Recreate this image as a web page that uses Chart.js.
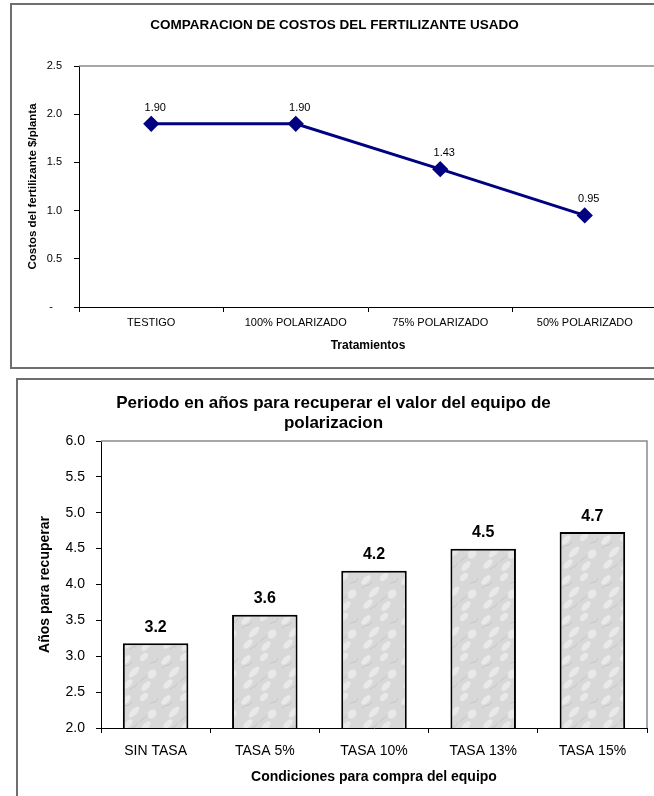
<!DOCTYPE html>
<html>
<head>
<meta charset="utf-8">
<script src="https://cdn.jsdelivr.net/npm/chart.js@4"></script>
<style>
  html, body { margin: 0; padding: 0; width: 654px; height: 796px; overflow: hidden; background: #fff; }
  body { position: relative; }
  .frame { position: absolute; border: 2px solid #6e6e6e; box-sizing: border-box; }
  .wrap { position: absolute; }
</style>
</head>
<body>
<div class="frame" style="left:10px;top:3px;width:680px;height:366px"></div>
<div class="frame" style="left:16px;top:378px;width:680px;height:440px"></div>
<div class="wrap" style="left:0;top:0;width:670px;height:370px"><canvas id="chCosto"></canvas></div>
<div class="wrap" style="left:0;top:372px;width:670px;height:424px"><canvas id="chPeriodo"></canvas></div>

<script>
/* datos grafico 1: costo del fertilizante */
const tratamientos = ['TESTIGO', '100% POLARIZADO', '75% POLARIZADO', '50% POLARIZADO'];
const costoPlanta  = [1.90, 1.90, 1.43, 0.95];
const costoTicks   = [0, 0.5, 1.0, 1.5, 2.0, 2.5];

/* datos grafico 2: periodo de recuperacion */
const condiciones  = ['SIN TASA', 'TASA 5%', 'TASA 10%', 'TASA 13%', 'TASA 15%'];
const aniosRecup   = [3.18, 3.58, 4.19, 4.50, 4.73];
const aniosTicks   = [2.0, 2.5, 3.0, 3.5, 4.0, 4.5, 5.0, 5.5, 6.0];

const FONT = "'Liberation Sans', Arial, sans-serif";
Chart.defaults.font.family = FONT;
Chart.defaults.color = '#000';

// borde gris arriba y a la derecha del area de trazado
const plotFrame = {
  id: 'plotFrame',
  beforeDatasetsDraw(chart) {
    const { ctx, chartArea: a } = chart;
    ctx.save();
    ctx.strokeStyle = '#8a8a8a';
    ctx.lineWidth = 1.5;
    ctx.beginPath();
    ctx.moveTo(a.left, a.top);
    ctx.lineTo(a.right, a.top);
    ctx.lineTo(a.right, a.bottom);
    ctx.stroke();
    ctx.restore();
  }
};

// etiquetas de valor sobre cada punto / barra
function valueLabels(font, fmt, dx, dy) {
  return {
    id: 'valueLabels',
    afterDatasetsDraw(chart) {
      const { ctx } = chart;
      const ds = chart.data.datasets[0];
      ctx.save();
      ctx.font = font;
      ctx.fillStyle = '#000';
      ctx.textAlign = 'center';
      ctx.textBaseline = 'middle';
      chart.getDatasetMeta(0).data.forEach((el, i) => {
        ctx.fillText(fmt(ds.data[i]), el.x + dx, el.y - dy);
      });
      ctx.restore();
    }
  };
}

// textura tipo marmol (gris claro moteado) para las barras
function marble() {
  const c = document.createElement('canvas');
  c.width = 40; c.height = 40;
  const g = c.getContext('2d');
  g.fillStyle = '#d8d8d8';
  g.fillRect(0, 0, 40, 40);
  g.fillStyle = 'rgba(255,255,255,0.45)';
  [[6, 8, 6, 3], [24, 5, 5, 3], [14, 20, 7, 3], [32, 22, 5, 4], [8, 32, 6, 3], [26, 34, 6, 3]].forEach(([x, y, rx, ry]) => {
    g.beginPath(); g.ellipse(x, y, rx, ry, -0.8, 0, Math.PI * 2); g.fill();
  });
  g.strokeStyle = 'rgba(140,140,140,0.35)';
  g.lineWidth = 0.7;
  g.beginPath();
  g.moveTo(2, 16); g.bezierCurveTo(6, 12, 9, 15, 12, 10);
  g.moveTo(20, 30); g.bezierCurveTo(22, 26, 26, 27, 28, 22);
  g.moveTo(30, 12); g.bezierCurveTo(33, 9, 36, 12, 38, 6);
  g.moveTo(10, 38); g.bezierCurveTo(13, 34, 15, 36, 18, 31);
  g.stroke();
  return g.createPattern(c, 'repeat');
}

new Chart(document.getElementById('chCosto'), {
  type: 'line',
  data: {
    labels: tratamientos,
    datasets: [{
      data: costoPlanta,
      borderColor: '#000080',
      backgroundColor: '#000080',
      borderWidth: 3,
      pointStyle: 'rectRot',
      pointRadius: 6,
      pointHoverRadius: 6,
      tension: 0
    }]
  },
  options: {
    responsive: true, maintainAspectRatio: false, animation: false,
    layout: { padding: { left: 12, right: 13, top: 8, bottom: 8 } },
    plugins: {
      legend: { display: false },
      tooltip: { enabled: false },
      title: {
        display: true, text: 'COMPARACION DE COSTOS DEL FERTILIZANTE USADO',
        color: '#000', font: { size: 13.5, weight: 'bold', lineHeight: 1.2 },
        padding: { top: 9, bottom: 32.8 }
      }
    },
    scales: {
      x: {
        offset: true,
        grid: { offset: true, drawOnChartArea: false, tickLength: 5, color: '#000' },
        border: { color: '#000' },
        ticks: { font: { size: 11 }, padding: 4, maxRotation: 0 },
        title: { display: true, text: 'Tratamientos', font: { size: 12, weight: 'bold' }, padding: { top: 0, bottom: 8.8 } },
        afterFit: s => { s.height = 55; }
      },
      y: {
        min: 0, max: 2.5,
        afterBuildTicks: s => { s.ticks = costoTicks.map(v => ({ value: v })); },
        grid: { drawOnChartArea: false, tickLength: 5, color: '#000' },
        border: { color: '#000' },
        ticks: { font: { size: 11 }, padding: 12, callback: v => v === 0 ? '-   ' : v.toFixed(1) },
        title: { display: true, text: 'Costos del fertilizante $/planta', font: { size: 11.5, weight: 'bold' }, padding: { top: 14, bottom: 0 } },
        afterFit: s => { s.width = 67; }
      }
    }
  },
  plugins: [plotFrame, valueLabels('11px ' + FONT, v => v.toFixed(2), 4, 16)]
});

new Chart(document.getElementById('chPeriodo'), {
  type: 'bar',
  data: {
    labels: condiciones,
    datasets: [{
      data: aniosRecup,
      backgroundColor: marble(),
      borderColor: '#000',
      borderWidth: 2,
      borderSkipped: 'bottom',
      categoryPercentage: 1,
      barPercentage: 0.6
    }]
  },
  options: {
    responsive: true, maintainAspectRatio: false, animation: false,
    layout: { padding: { left: 20, right: 23, top: 12, bottom: 4 } },
    plugins: {
      legend: { display: false },
      tooltip: { enabled: false },
      title: {
        display: true,
        text: ['Periodo en años para recuperar el valor del equipo de', 'polarizacion'],
        color: '#000', font: { size: 17, weight: 'bold', lineHeight: 20 / 17 },
        padding: { top: 9, bottom: 8 }
      }
    },
    scales: {
      x: {
        grid: { offset: true, drawOnChartArea: false, tickLength: 5, color: '#000' },
        border: { color: '#000' },
        ticks: { font: { size: 14 }, padding: 10, maxRotation: 0 },
        title: { display: true, text: 'Condiciones para compra del equipo', font: { size: 14, weight: 'bold' }, padding: { top: 0, bottom: 6.6 } },
        afterFit: s => { s.height = 64; }
      },
      y: {
        min: 2, max: 6,
        afterBuildTicks: s => { s.ticks = aniosTicks.map(v => ({ value: v })); },
        grid: { drawOnChartArea: false, tickLength: 5, color: '#000' },
        border: { color: '#000' },
        ticks: { font: { size: 14 }, padding: 11, callback: v => v.toFixed(1) },
        title: { display: true, text: 'Años para recuperar', font: { size: 14, weight: 'bold' }, padding: { top: 16.6, bottom: 0 } },
        afterFit: s => { s.width = 81; }
      }
    }
  },
  plugins: [plotFrame, valueLabels('bold 16px ' + FONT, v => v.toFixed(1), 0, 16)]
});
</script>
</body>
</html>
